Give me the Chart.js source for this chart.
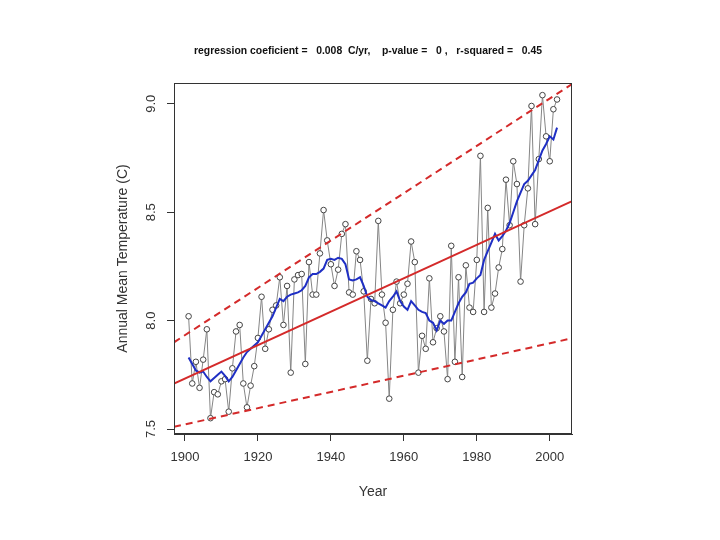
<!DOCTYPE html>
<html>
<head>
<meta charset="utf-8">
<script src="https://cdn.jsdelivr.net/npm/chart.js@4/dist/chart.umd.min.js"></script>
<style>
  html, body { margin: 0; padding: 0; background: #fff; }
</style>
</head>
<body>
<canvas id="temp-chart" width="720" height="540"></canvas>
<script>
// annual values
const years = [
    1901, 1902, 1903, 1904, 1905, 1906, 1907, 1908, 1909, 1910,
    1911, 1912, 1913, 1914, 1915, 1916, 1917, 1918, 1919, 1920,
    1921, 1922, 1923, 1924, 1925, 1926, 1927, 1928, 1929, 1930,
    1931, 1932, 1933, 1934, 1935, 1936, 1937, 1938, 1939, 1940,
    1941, 1942, 1943, 1944, 1945, 1946, 1947, 1948, 1949, 1950,
    1951, 1952, 1953, 1954, 1955, 1956, 1957, 1958, 1959, 1960,
    1961, 1962, 1963, 1964, 1965, 1966, 1967, 1968, 1969, 1970,
    1971, 1972, 1973, 1974, 1975, 1976, 1977, 1978, 1979, 1980,
    1981, 1982, 1983, 1984, 1985, 1986, 1987, 1988, 1989, 1990,
    1991, 1992, 1993, 1994, 1995, 1996, 1997, 1998, 1999, 2000,
    2001, 2002
];
const temps = [
    8.02, 7.71, 7.81, 7.69, 7.82, 7.96, 7.55, 7.67, 7.66, 7.72,
    7.73, 7.58, 7.78, 7.95, 7.98, 7.71, 7.60, 7.70, 7.79, 7.92,
    8.11, 7.87, 7.96, 8.05, 8.07, 8.20, 7.98, 8.16, 7.76, 8.19,
    8.21, 8.215, 7.80, 8.27, 8.12, 8.12, 8.31, 8.51, 8.37, 8.26,
    8.16, 8.235, 8.40, 8.445, 8.13, 8.12, 8.32, 8.28, 8.135, 7.815,
    8.10, 8.08, 8.46, 8.12, 7.99, 7.64, 8.05, 8.18, 8.08, 8.12,
    8.17, 8.365, 8.27, 7.76, 7.93, 7.87, 8.195, 7.90, 7.965, 8.02,
    7.95, 7.73, 8.345, 7.81, 8.20, 7.74, 8.255, 8.06, 8.04, 8.28,
    8.76, 8.04, 8.52, 8.06, 8.125, 8.245, 8.33, 8.65, 8.44, 8.735,
    8.63, 8.18, 8.44, 8.61, 8.99, 8.445, 8.745, 9.04, 8.85, 8.735,
    8.975, 9.02
];
// smoothed curve (blue)
const smooth = [
    7.83, 7.80, 7.77, 7.76, 7.765, 7.74, 7.72, 7.735, 7.75, 7.765,
    7.745, 7.72, 7.74, 7.77, 7.80, 7.83, 7.855, 7.87, 7.885, 7.90,
    7.93, 7.96, 7.99, 8.02, 8.06, 8.10, 8.09, 8.11, 8.12, 8.125,
    8.13, 8.14, 8.16, 8.20, 8.215, 8.215, 8.225, 8.24, 8.28, 8.285,
    8.28, 8.29, 8.285, 8.26, 8.19, 8.185, 8.19, 8.20, 8.16, 8.11,
    8.095, 8.09, 8.08, 8.07, 8.06, 8.09, 8.11, 8.135, 8.09, 8.065,
    8.05, 8.09, 8.07, 8.05, 8.04, 8.035, 8.00, 7.99, 7.955, 8.00,
    7.985, 8.00, 8.00, 8.04, 8.08, 8.11, 8.13, 8.17, 8.175, 8.195,
    8.21, 8.28, 8.32, 8.36, 8.40, 8.37, 8.39, 8.415, 8.45, 8.50,
    8.55, 8.59, 8.63, 8.645, 8.67, 8.695, 8.74, 8.785, 8.815, 8.85,
    8.835, 8.89
];
// straight lines, values at the left and right edge of the box
const edgeYears = [1897, 2006];
const fitLine = [7.71, 8.55];
const upperBand = [7.90, 9.09];
const lowerBand = [7.51, 7.918];

const xTicks = [1900, 1920, 1940, 1960, 1980, 2000];
const yTicks = [7.5, 8.0, 8.5, 9.0];

const titleText = 'regression coeficient =   0.008  C/yr,    p-value =   0 ,   r-squared =   0.45';
const xTitle = 'Year';
const yTitle = 'Annual Mean Temperature (C)';

const FONT = '"Liberation Sans", Arial, Helvetica, sans-serif';
const AXIS = '#333333';
const RED = '#d42a2a';
const BLUE = '#1f2fc4';

function pairs(xs, ys) {
    return xs.map((x, i) => ({ x: x, y: ys[i] }));
}

// box, title, rotated y labels and axis titles
const decorPlugin = {
    id: 'decor',
    afterDraw(chart) {
        const c = chart.ctx;
        const area = chart.chartArea;
        const yScale = chart.scales.y;

        c.save();
        c.strokeStyle = AXIS;
        c.lineWidth = 1;
        c.strokeRect(area.left + 0.5, area.top + 0.5, area.right - area.left - 1, area.bottom - area.top - 1);

        c.fillStyle = '#111';
        c.textAlign = 'center';
        c.textBaseline = 'middle';
        c.font = 'bold 10.4px ' + FONT;
        c.fillText(titleText, (area.left + area.right) / 2 - 5, 51);

        c.fillStyle = AXIS;
        c.font = '14px ' + FONT;
        c.fillText(xTitle, (area.left + area.right) / 2, 492);

        // y tick labels, read bottom to top like R
        c.font = '13px ' + FONT;
        yTicks.forEach(v => {
            const py = yScale.getPixelForValue(v);
            c.save();
            c.translate(151, py);
            c.rotate(-Math.PI / 2);
            c.fillText(v.toFixed(1), 0, 0);
            c.restore();
        });

        c.font = '14px ' + FONT;
        c.translate(123, (area.top + area.bottom) / 2);
        c.rotate(-Math.PI / 2);
        c.fillText(yTitle, 0, 0);
        c.restore();
    }
};

const ctx = document.getElementById('temp-chart');

new Chart(ctx, {
    type: 'line',
    data: {
        datasets: [
            {
                label: 'fit',
                data: pairs(edgeYears, fitLine),
                borderColor: RED,
                borderWidth: 2,
                pointRadius: 0
            },
            {
                label: 'upper',
                data: pairs(edgeYears, upperBand),
                borderColor: RED,
                borderWidth: 2,
                borderDash: [7, 5],
                pointRadius: 0
            },
            {
                label: 'lower',
                data: pairs(edgeYears, lowerBand),
                borderColor: RED,
                borderWidth: 2,
                borderDash: [7, 5],
                pointRadius: 0
            },
            {
                label: 'smooth',
                data: pairs(years, smooth),
                borderColor: BLUE,
                borderWidth: 2,
                pointRadius: 0
            },
            {
                label: 'annual',
                data: pairs(years, temps),
                borderColor: '#858585',
                borderWidth: 1,
                pointRadius: 2.8,
                pointBorderColor: '#444444',
                pointBackgroundColor: '#ffffff',
                pointBorderWidth: 1
            }
        ]
    },
    options: {
        responsive: false,
        animation: false,
        layout: {
            padding: { left: 154, right: 148, top: 83, bottom: 0 }
        },
        plugins: {
            legend: { display: false },
            tooltip: { enabled: false }
        },
        scales: {
            x: {
                type: 'linear',
                min: 1897,
                max: 2006.1,
                afterBuildTicks: scale => {
                    scale.ticks = xTicks.map(v => ({ value: v }));
                },
                afterFit: scale => {
                    scale.height = 106;
                },
                grid: {
                    drawOnChartArea: false,
                    tickLength: 7,
                    color: AXIS
                },
                border: { color: AXIS },
                ticks: {
                    color: AXIS,
                    padding: 9,
                    maxRotation: 0,
                    font: { family: FONT, size: 13 },
                    callback: v => String(v)
                }
            },
            y: {
                min: 7.477,
                max: 9.096,
                afterBuildTicks: scale => {
                    scale.ticks = yTicks.map(v => ({ value: v }));
                },
                afterFit: scale => {
                    scale.width = 20;
                },
                grid: {
                    drawOnChartArea: false,
                    tickLength: 7,
                    color: AXIS
                },
                border: { color: AXIS },
                ticks: { display: false }
            }
        }
    },
    plugins: [decorPlugin]
});
</script>
</body>
</html>
